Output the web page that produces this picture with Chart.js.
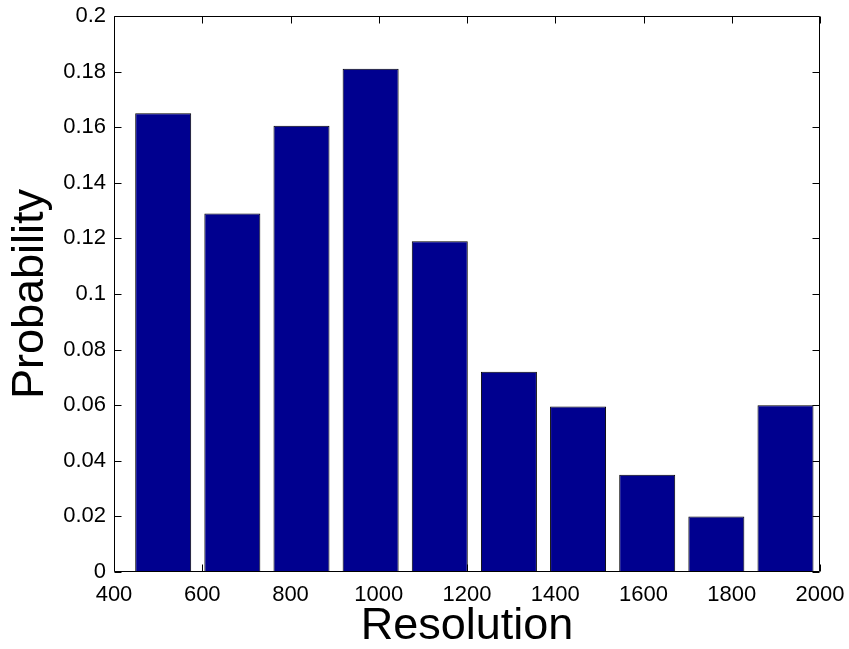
<!DOCTYPE html>
<html><head><meta charset="utf-8">
<script src="https://cdn.jsdelivr.net/npm/chart.js@4.4.1/dist/chart.umd.min.js"></script>
<style>html,body{margin:0;padding:0;background:#fff;} #wrap{width:849px;height:649px;}</style>
</head><body><div id="wrap"><canvas id="c" width="849" height="649"></canvas></div>
<script>
const binCenters = [511.5, 668.2, 824.9, 981.6, 1138.3, 1295.0, 1451.7, 1608.4, 1765.1, 1921.8];
const probabilities = [0.165, 0.129, 0.1605, 0.181, 0.119, 0.072, 0.0595, 0.035, 0.020, 0.060];
const xTicks = [400, 600, 800, 1000, 1200, 1400, 1600, 1800, 2000];
const xTickLabels = ['400', '600', '800', '1000', '1200', '1400', '1600', '1800', '2000'];
const yTicks = [0, 0.02, 0.04, 0.06, 0.08, 0.1, 0.12, 0.14, 0.16, 0.18, 0.2];
const yTickLabels = ['0', '0.02', '0.04', '0.06', '0.08', '0.1', '0.12', '0.14', '0.16', '0.18', '0.2'];
const xTitle = 'Resolution';
const yTitle = 'Probability';

const FONT = "'Liberation Sans', Arial, Helvetica, sans-serif";

const boxPlugin = {
  id: 'matlabBox',
  beforeDatasetsDraw(chart) {
    const ctx = chart.ctx;
    const a = chart.chartArea;
    const xs = chart.scales.x, ys = chart.scales.y;
    const L = Math.round(a.left) + 0.5, R = Math.round(a.right) - 0.5;
    const T = Math.round(a.top) + 0.5, B = Math.round(a.bottom) - 0.5;
    const tl = 7;
    ctx.save();
    ctx.strokeStyle = '#000';
    ctx.lineWidth = 1;
    ctx.beginPath();
    xTicks.forEach(v => {
      const p = Math.round(xs.getPixelForValue(v)) + 0.5;
      ctx.moveTo(p, B); ctx.lineTo(p, B - tl);
      ctx.moveTo(p, T); ctx.lineTo(p, T + tl);
    });
    yTicks.forEach(v => {
      const p = Math.round(ys.getPixelForValue(v)) + 0.5;
      ctx.moveTo(L, p); ctx.lineTo(L + tl, p);
      ctx.moveTo(R, p); ctx.lineTo(R - tl, p);
    });
    ctx.stroke();
    ctx.beginPath();
    ctx.rect(L, T, R - L, B - T);
    ctx.stroke();
    ctx.restore();
  }
};

new Chart(document.getElementById('c'), {
  type: 'bar',
  data: {
    datasets: [{
      data: binCenters.map((x, i) => ({ x: x, y: probabilities[i] })),
      backgroundColor: '#00008F',
      borderColor: '#000000',
      borderWidth: 1,
      borderSkipped: false,
      barPercentage: 0.81,
      categoryPercentage: 1.0
    }]
  },
  options: {
    responsive: false,
    animation: false,
    devicePixelRatio: 1,
    layout: { padding: { top: 16, right: 29, left: 0, bottom: 0 } },
    plugins: { legend: { display: false }, tooltip: { enabled: false } },
    scales: {
      x: {
        type: 'linear', min: 400, max: 2000, offset: false,
        grid: { display: false, drawTicks: false, offset: false },
        border: { display: false },
        afterBuildTicks: s => { s.ticks = xTicks.map(v => ({ value: v })); },
        ticks: { autoSkip: false, maxRotation: 0, color: '#000', padding: 10,
                 font: { family: FONT, size: 22 },
                 callback: (v, i) => xTickLabels[i] },
        title: { display: true, text: xTitle, color: '#000',
                 font: { family: FONT, size: 45, lineHeight: 1.0 }, padding: { top: 0, bottom: 0 } },
        afterFit: s => { s.height = 77; s.paddingLeft = 0; s.paddingRight = 0; }
      },
      y: {
        type: 'linear', min: 0, max: 0.2,
        grid: { display: false, drawTicks: false },
        border: { display: false },
        afterBuildTicks: s => { s.ticks = yTicks.map(v => ({ value: v })); },
        ticks: { autoSkip: false, color: '#000', padding: 8,
                 font: { family: FONT, size: 22 },
                 callback: (v, i) => yTickLabels[i] },
        title: { display: true, text: yTitle, color: '#000',
                 font: { family: FONT, size: 45, lineHeight: 1.2 }, padding: { top: 4, bottom: 0 } },
        afterFit: s => { s.width = 114; s.paddingTop = 0; s.paddingBottom = 0; }
      }
    }
  },
  plugins: [boxPlugin]
});
</script></body></html>
